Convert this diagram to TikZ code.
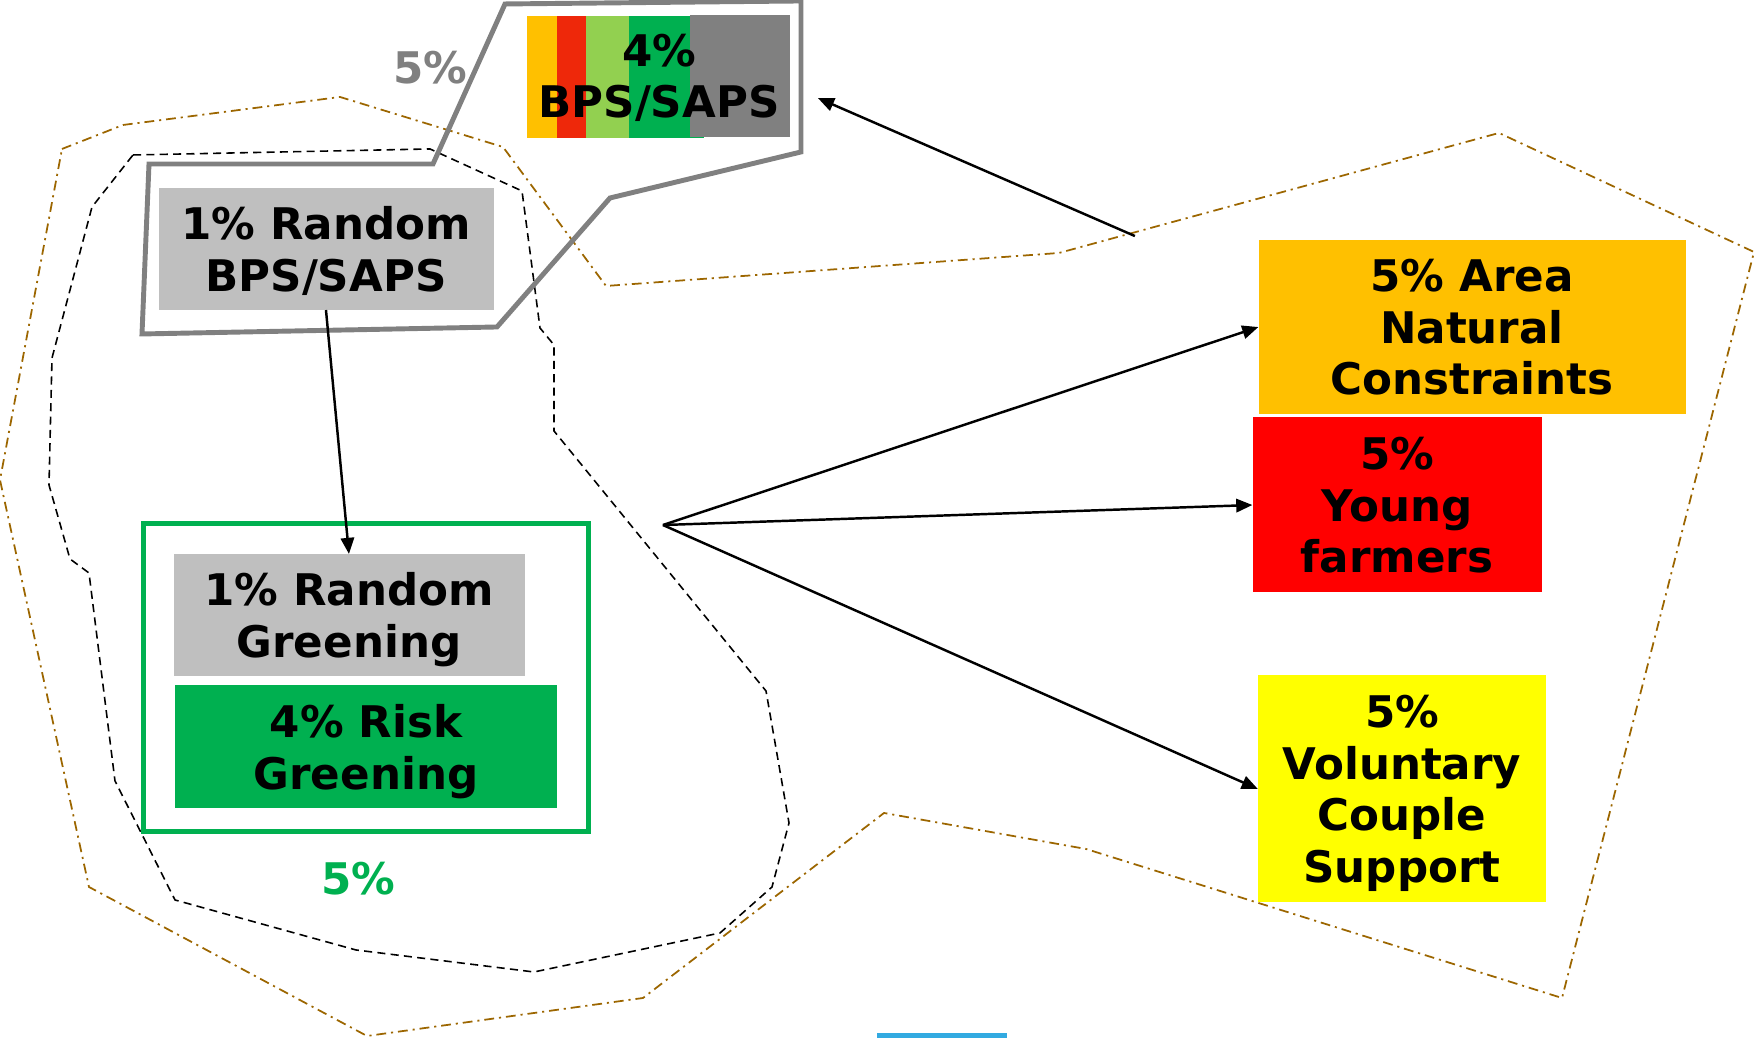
\documentclass[tikz,border=0pt]{standalone}
\usepackage{fontspec}
\setmainfont{DejaVu Sans}
\usepackage{tikz,tkz-graph}
\usetikzlibrary{arrows.meta}
\definecolor{capOrange}{RGB}{255,192,0}
\definecolor{capRed}{RGB}{255,0,0}
\definecolor{stripeRed}{RGB}{238,40,10}
\definecolor{capLightGreen}{RGB}{146,208,80}
\definecolor{capGreen}{RGB}{0,176,80}
\definecolor{capGrey}{RGB}{128,128,128}
\definecolor{capSilver}{RGB}{191,191,191}
\definecolor{capYellow}{RGB}{255,255,0}
\definecolor{zoneBrown}{RGB}{156,102,0}
\definecolor{barBlue}{RGB}{50,170,225}
\tikzstyle{labeledBox}=[shape = rectangle, inner sep = 0pt, align = center, text depth = 0pt, font = \bfseries\fontsize{12.4}{14.7}\selectfont]
\tikzstyle{percentStyle}=[shape = rectangle, inner sep = 0pt, font = \bfseries\fontsize{12.4}{14.7}\selectfont]

\begin{document}
\begin{tikzpicture}[scale = 10]
\tikzstyle{VertexStyle} = []
\tikzstyle{EdgeStyle} = [line width = 0.7pt, -{Triangle[length = 4.6pt, width = 3.8pt]}]
\tikzstyle{LabelStyle} = [fill = none, inner sep = 0pt]
\tikzstyle{greyBox}=[labeledBox, fill = capSilver]
\tikzstyle{zoneStyle}=[zoneBrown, line width = 0.5pt, dash pattern = on 2.8pt off 1.4pt on 0.6pt off 1.4pt]
\tikzstyle{groupStyle}=[black, line width = 0.45pt, dash pattern = on 2.3pt off 1.5pt]
\useasboundingbox (0,0) rectangle (1.758,1.038);
\draw[zoneStyle] (0.062,0.889) -- (0.123,0.913) -- (0.340,0.941) -- (0.503,0.891) -- (0.606,0.752) -- (1.059,0.785) -- (1.499,0.905) -- (1.754,0.786) -- (1.562,0.040) -- (1.086,0.189) -- (0.884,0.225) -- (0.643,0.040) -- (0.367,0.002) -- (0.089,0.151) -- (0.000,0.558) -- cycle;
\draw[groupStyle] (0.133,0.883) -- (0.430,0.889) -- (0.522,0.847) -- (0.540,0.710) -- (0.554,0.693) -- (0.554,0.607) -- (0.766,0.347) -- (0.789,0.215) -- (0.772,0.151) -- (0.720,0.105) -- (0.534,0.066) -- (0.356,0.088) -- (0.175,0.138) -- (0.115,0.257) -- (0.089,0.465) -- (0.070,0.479) -- (0.049,0.553) -- (0.052,0.680) -- (0.092,0.831) -- cycle;
\draw[capGrey, line width = 1.4pt] (0.505,1.034) -- (0.801,1.037) -- (0.801,0.886) -- (0.610,0.840) -- (0.497,0.711) -- (0.142,0.704) -- (0.149,0.874) -- (0.433,0.874) -- cycle;
\fill[capOrange] (0.527,1.022) rectangle (0.557,0.900);
\fill[stripeRed] (0.557,1.022) rectangle (0.586,0.900);
\fill[capLightGreen] (0.586,1.022) rectangle (0.629,0.900);
\fill[capGreen] (0.629,1.022) rectangle (0.704,0.900);
\fill[capGrey] (0.690,1.023) rectangle (0.790,0.901);
\draw[capGreen, line width = 1.4pt] (0.1435,0.5145) rectangle (0.5885,0.2065);
\fill[barBlue] (0.877,0.005) rectangle (1.007,0.000);
\Vertex[style = {greyBox, minimum width = 3.35cm, minimum height = 1.22cm}, x = 0.326, y = 0.789, L = {1\% Random\\BPS/SAPS}]{randomBps}
\Vertex[style = {greyBox, minimum width = 3.51cm, minimum height = 1.22cm}, x = 0.349, y = 0.423, L = {1\% Random\\Greening}]{randomGreen}
\Vertex[style = {labeledBox, fill = capGreen, minimum width = 3.82cm, minimum height = 1.23cm}, x = 0.366, y = 0.291, L = {4\% Risk\\Greening}]{riskGreen}
\Vertex[style = {labeledBox, minimum width = 2.63cm, minimum height = 1.23cm}, x = 0.659, y = 0.962, L = {4\%\\BPS/SAPS}]{bpsFour}
\Vertex[style = {labeledBox, fill = capOrange, minimum width = 4.27cm, minimum height = 1.74cm}, x = 1.472, y = 0.711, L = {5\% Area\\Natural\\Constraints}]{areaNC}
\Vertex[style = {labeledBox, fill = capRed, minimum width = 2.89cm, minimum height = 1.75cm}, x = 1.397, y = 0.533, L = {5\%\\Young\\farmers}]{youngFarm}
\Vertex[style = {labeledBox, fill = capYellow, minimum width = 2.88cm, minimum height = 2.27cm}, x = 1.402, y = 0.249, L = {5\%\\Voluntary\\Couple\\Support}]{voluntaryCS}
\Vertex[style = {percentStyle, text = capGrey}, x = 0.430, y = 0.970, L = {5\%}]{bpsShare}
\Vertex[style = {percentStyle, text = capGreen}, x = 0.358, y = 0.159, L = {5\%}]{greenShare}
\coordinate (fan) at (0.663,0.513);
\coordinate (zoneTop) at (1.135,0.802);
\coordinate (bpsTip) at (0.818,0.940);
\Edge(randomBps.south)(randomGreen.north)
\Edge(fan)(areaNC.west)
\Edge(fan)(youngFarm.west)
\Edge(fan)(voluntaryCS.west)
\Edge(zoneTop)(bpsTip)
\end{tikzpicture}
\end{document}
